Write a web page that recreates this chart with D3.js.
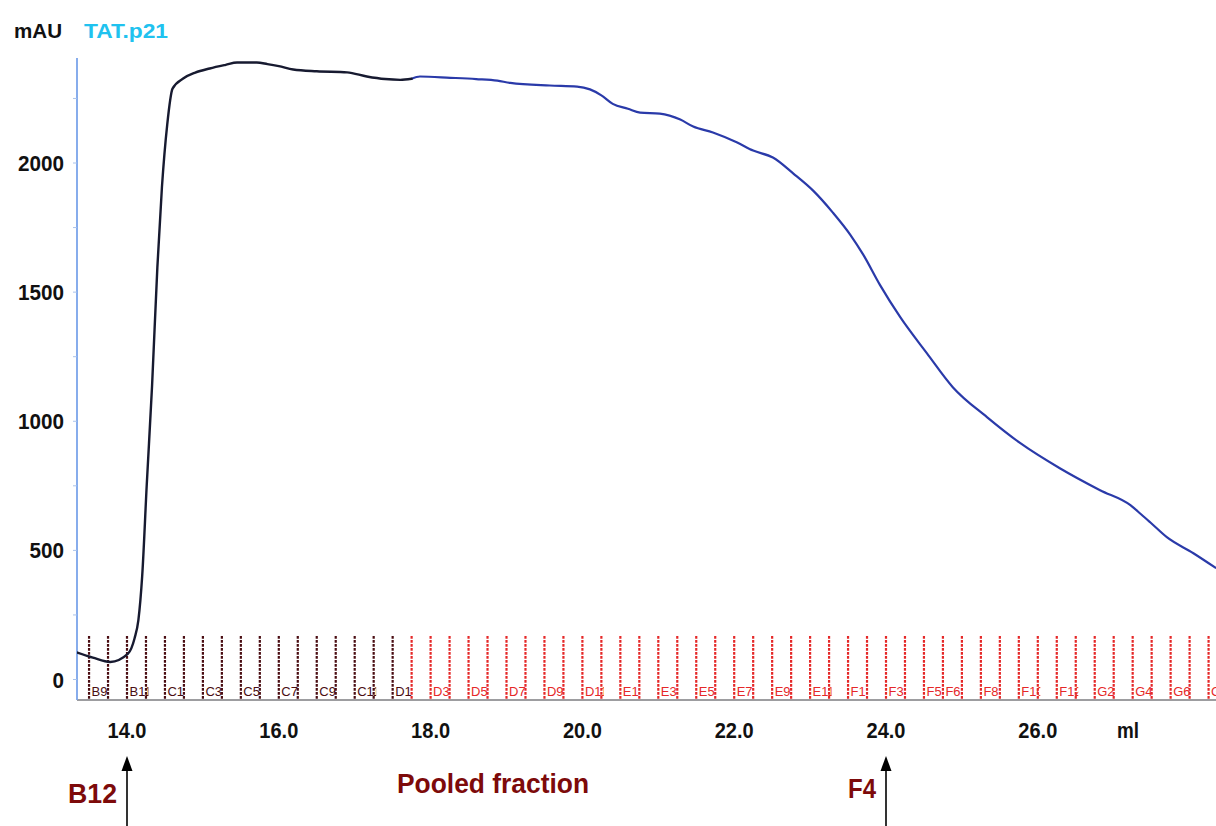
<!DOCTYPE html>
<html>
<head>
<meta charset="utf-8">
<script src="https://cdn.jsdelivr.net/npm/d3@7/dist/d3.min.js"></script>
<style>
  html, body { margin: 0; padding: 0; background: #fff; }
  svg { display: block; }
  text { font-family: "Liberation Sans", Arial, sans-serif; }
</style>
</head>
<body>
<svg id="chart" width="1216" height="826"></svg>
<script>
// UV absorbance trace (ml, mAU)
const volumeMl = [13.33, 13.55, 13.78, 14.01, 14.1, 14.15, 14.2, 14.26, 14.33, 14.4, 14.46, 14.53, 14.6, 14.74, 14.9,
  15.09, 15.3, 15.45, 15.71, 15.85, 16.0, 16.19, 16.5, 16.9, 17.16, 17.4, 17.6, 17.75, 17.86, 18.26, 18.6, 18.88,
  19.05, 19.57, 19.93, 20.1, 20.25, 20.4, 20.6, 20.76, 21.02, 21.29, 21.46, 21.72, 22.04, 22.25, 22.51, 22.78,
  23.04, 23.3, 23.53, 23.7, 23.92, 24.19, 24.54, 24.88, 25.33, 25.77, 26.29, 26.82, 27.22, 27.36, 27.48, 27.7,
  28.05, 28.35];
const absorbance = [106, 85, 68, 99, 160, 230, 400, 753, 1136, 1596, 1905, 2149, 2288, 2327, 2350,
  2366, 2380, 2389, 2389, 2383, 2375, 2362, 2355, 2351, 2335, 2325, 2322, 2326, 2335, 2330, 2325, 2319,
  2310, 2300, 2296, 2285, 2262, 2229, 2210, 2195, 2191, 2168, 2141, 2118, 2079, 2048, 2021, 1959,
  1893, 1808, 1722, 1645, 1528, 1402, 1263, 1132, 1016, 915, 818, 733, 675, 640, 609, 551,
  489, 431];

// Axis ticks
const yTickValues = [0, 500, 1000, 1500, 2000];
const yMinorTicks = [0, 250, 500, 750, 1000, 1250, 1500, 1750, 2000, 2250];
const xTickValues = [14, 16, 18, 20, 22, 24, 26];

// Collected fractions (0.25 ml each, starting at 13.5 ml)
const fractionNames = ["B9", "B10", "B11", "B12",
  "C1", "C2", "C3", "C4", "C5", "C6", "C7", "C8", "C9", "C10", "C11", "C12",
  "D1", "D2", "D3", "D4", "D5", "D6", "D7", "D8", "D9", "D10", "D11", "D12",
  "E1", "E2", "E3", "E4", "E5", "E6", "E7", "E8", "E9", "E10", "E11", "E12",
  "F1", "F2", "F3", "F4", "F5", "F6", "F7", "F8", "F9", "F10", "F11", "F12",
  "G1", "G2", "G3", "G4", "G5", "G6", "G7", "G8"];
const labelledFractions = ["B9", "B11", "C1", "C3", "C5", "C7", "C9", "C11", "D1", "D3", "D5", "D7", "D9", "D11",
  "E1", "E3", "E5", "E7", "E9", "E11", "F1", "F3", "F5", "F6", "F8", "F10", "F12", "G2", "G4", "G6", "G8"];
const fractionStart = 13.5;
const fractionSize = 0.25;
const darkUntilMl = 17.5;     // fraction marks up to here are drawn dark
const traceSwitchMl = 17.75;  // trace colour changes here

// Pool annotations
const poolMarks = [{ ml: 14.0, label: "B12" }, { ml: 24.0, label: "F4" }];
const poolTitle = "Pooled fraction";

const svg = d3.select("#chart");
const W = 1216, H = 826;
const plotLeft = 77, plotRight = 1216, plotTop = 58, plotBottom = 700;

const x = d3.scaleLinear().domain([14, 24]).range([127, 886]);
const y = d3.scaleLinear().domain([0, 2000]).range([679.5, 163]);

const defs = svg.append("defs");
defs.append("clipPath").attr("id", "plotClip")
  .append("rect").attr("x", plotLeft).attr("y", 0)
  .attr("width", plotRight - plotLeft).attr("height", plotBottom + 1);

// Header
svg.append("text").attr("x", 14).attr("y", 38)
  .attr("font-size", 21).attr("font-weight", "bold").attr("fill", "#111")
  .attr("textLength", 48).attr("lengthAdjust", "spacingAndGlyphs").text("mAU");
svg.append("text").attr("x", 84).attr("y", 38)
  .attr("font-size", 21).attr("font-weight", "bold").attr("fill", "#20c2ef")
  .attr("textLength", 84).attr("lengthAdjust", "spacingAndGlyphs").text("TAT.p21");

// Fraction marks
const fracG = svg.append("g").attr("clip-path", "url(#plotClip)");
const boundaries = d3.range(fractionNames.length + 1).map(i => fractionStart + i * fractionSize);
const fracTopVal = 168, fracBotVal = -79;
const fracColor = v => v <= darkUntilMl + 1e-6 ? "#4a0d12" : "#e52828";
fracG.selectAll("line.frac").data(boundaries).join("line")
  .attr("class", "frac")
  .attr("x1", d => x(d)).attr("x2", d => x(d))
  .attr("y1", y(fracTopVal)).attr("y2", y(fracBotVal))
  .attr("stroke", fracColor)
  .attr("stroke-width", 2.2)
  .attr("stroke-dasharray", "2.6,1.4");

const labelData = fractionNames.map((n, i) => ({ name: n, start: fractionStart + i * fractionSize }))
  .filter(d => labelledFractions.includes(d.name));
labelData.forEach((d, i) => {
  defs.append("clipPath").attr("id", "fc" + i)
    .append("rect").attr("x", x(d.start) + 1).attr("y", 600)
    .attr("width", x(d.start + fractionSize) - x(d.start) + 1.5).attr("height", 100);
});
fracG.selectAll("text.flab").data(labelData).join("text")
  .attr("class", "flab")
  .attr("clip-path", (d, i) => "url(#fc" + i + ")")
  .attr("x", d => x(d.start) + 2.5).attr("y", 696)
  .attr("font-family", "'Liberation Serif', 'DejaVu Serif', serif")
  .attr("font-size", 13)
  .attr("fill", d => fracColor(d.start))
  .text(d => d.name);

// Axes lines
svg.append("line").attr("x1", plotLeft).attr("x2", plotRight)
  .attr("y1", plotBottom).attr("y2", plotBottom)
  .attr("stroke", "#7d7d80").attr("stroke-width", 1.6);
svg.append("line").attr("x1", plotLeft).attr("x2", plotLeft)
  .attr("y1", plotTop).attr("y2", plotBottom)
  .attr("stroke", "#7aa4ea").attr("stroke-width", 1.8);
svg.selectAll("line.ymin").data(yMinorTicks).join("line")
  .attr("class", "ymin")
  .attr("x1", plotLeft - 4).attr("x2", plotLeft)
  .attr("y1", d => y(d)).attr("y2", d => y(d))
  .attr("stroke", "#a9c2ea").attr("stroke-width", 1);

// Y tick labels
svg.selectAll("text.ytick").data(yTickValues).join("text")
  .attr("class", "ytick")
  .attr("x", 64).attr("y", d => y(d) + 8)
  .attr("text-anchor", "end")
  .attr("font-size", 22).attr("font-weight", "bold").attr("fill", "#111")
  .attr("textLength", d => String(d).length * 11.5).attr("lengthAdjust", "spacingAndGlyphs")
  .text(d => d);

// X tick labels
svg.selectAll("text.xtick").data(xTickValues).join("text")
  .attr("class", "xtick")
  .attr("x", d => x(d)).attr("y", 738)
  .attr("text-anchor", "middle")
  .attr("font-size", 22).attr("font-weight", "bold").attr("fill", "#111")
  .attr("textLength", 39).attr("lengthAdjust", "spacingAndGlyphs")
  .text(d => d.toFixed(1));
svg.append("text").attr("x", 1128).attr("y", 738).attr("text-anchor", "middle")
  .attr("font-size", 22).attr("font-weight", "bold").attr("fill", "#111")
  .attr("textLength", 22).attr("lengthAdjust", "spacingAndGlyphs").text("ml");

// Trace
const pts = volumeMl.map((v, i) => ({ v, a: absorbance[i] }));
const line = d3.line().x(d => x(d.v)).y(d => y(d.a)).curve(d3.curveMonotoneX);
const traceG = svg.append("g").attr("clip-path", "url(#plotClip)");
const iSplit = volumeMl.findIndex(v => v >= traceSwitchMl);
traceG.append("path").datum(pts.slice(iSplit))
  .attr("d", line).attr("fill", "none")
  .attr("stroke", "#2a3aa9").attr("stroke-width", 2.2).attr("stroke-linejoin", "round");
traceG.append("path").datum(pts.slice(0, iSplit + 1))
  .attr("d", line).attr("fill", "none")
  .attr("stroke", "#171a30").attr("stroke-width", 2.4).attr("stroke-linejoin", "round")
  .attr("stroke-linecap", "round");

// Pool arrows
const arrowG = svg.append("g");
poolMarks.forEach(m => {
  const cx = x(m.ml);
  arrowG.append("line").attr("x1", cx).attr("x2", cx).attr("y1", H).attr("y2", 768)
    .attr("stroke", "#000").attr("stroke-width", 1.6);
  arrowG.append("path")
    .attr("d", `M${cx},756 L${cx - 5.5},771 L${cx + 5.5},771 Z`)
    .attr("fill", "#000");
});
const annColor = "#7d0a0a";
svg.append("text").attr("x", 68).attr("y", 803)
  .attr("font-size", 27).attr("font-weight", "bold").attr("fill", annColor)
  .attr("textLength", 49).attr("lengthAdjust", "spacingAndGlyphs").text(poolMarks[0].label);
svg.append("text").attr("x", 848).attr("y", 798)
  .attr("font-size", 27).attr("font-weight", "bold").attr("fill", annColor)
  .attr("textLength", 28).attr("lengthAdjust", "spacingAndGlyphs").text(poolMarks[1].label);
svg.append("text").attr("x", 397).attr("y", 793)
  .attr("font-size", 27).attr("font-weight", "bold").attr("fill", annColor)
  .attr("textLength", 192).attr("lengthAdjust", "spacingAndGlyphs").text(poolTitle);
</script>
</body>
</html>
